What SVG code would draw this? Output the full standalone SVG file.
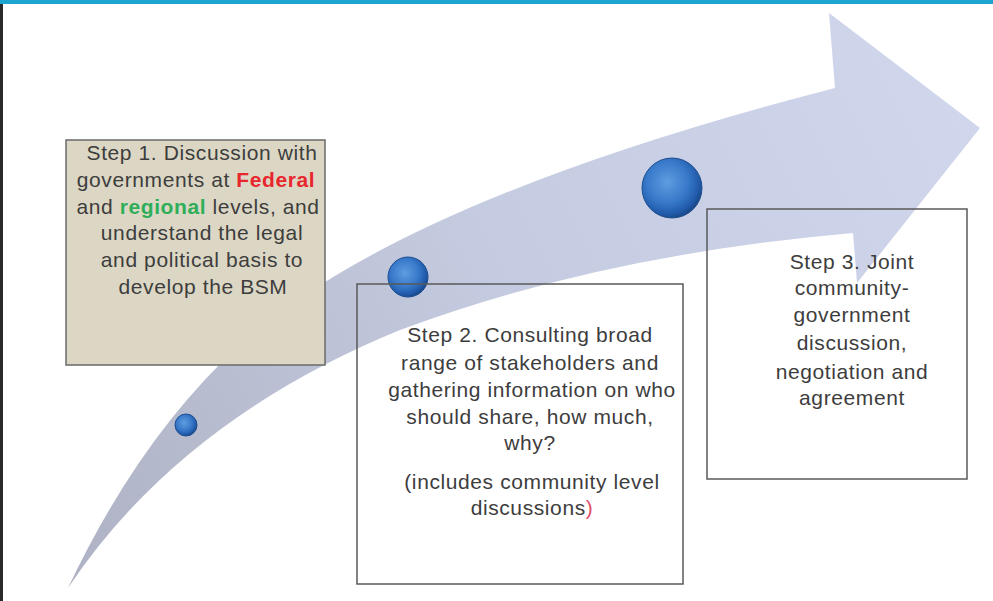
<svg xmlns="http://www.w3.org/2000/svg" width="993" height="601" viewBox="0 0 993 601">
<defs>
<linearGradient id="arrowGrad" x1="68" y1="588" x2="980" y2="128" gradientUnits="userSpaceOnUse">
<stop offset="0" stop-color="#aeb2c4"/>
<stop offset="0.5" stop-color="#c4cadf"/>
<stop offset="1" stop-color="#d0d6ec"/>
</linearGradient>
<radialGradient id="sphere" cx="0.42" cy="0.4" r="0.6">
<stop offset="0" stop-color="#5f9de0"/>
<stop offset="0.6" stop-color="#3677c8"/>
<stop offset="0.9" stop-color="#2059a8"/>
<stop offset="1" stop-color="#1b4a8c"/>
</radialGradient>
<style>
.box{fill:none;stroke:#5a5a5a;stroke-width:1.5}
.t{font-family:"Liberation Sans",Arial,sans-serif;font-size:21px;letter-spacing:0.6px;fill:#3d3d3d;text-anchor:middle}
.sph{fill:url(#sphere);stroke:#1d4f8f;stroke-width:1}
</style>
</defs>
<rect width="993" height="601" fill="#ffffff"/>
<rect x="0" y="0" width="993" height="4" fill="#1ba6cf"/>
<rect x="0" y="4" width="3" height="597" fill="#2a2a2a"/>

<g id="connectors">
<path id="arrow" d="M68,588 Q140,436 240,345 Q400,200 835,88 L829,13 L980,128 L857,283 L853,233 Q600,255 400,330 Q180,420 68,588 Z" fill="url(#arrowGrad)"/>
<circle class="sph" cx="186" cy="425" r="11"/>
<circle class="sph" cx="408" cy="277" r="20"/>
<circle class="sph" cx="672" cy="188" r="30"/>
</g>

<g id="step1">
<rect x="66" y="140" width="259" height="225" fill="#dcd7c4" stroke="#6a6a6a" stroke-width="1.5"/>
<text class="t" x="202" y="160">Step 1. Discussion with</text>
<text class="t" x="196" y="187">governments at <tspan fill="#e8262e" font-weight="bold">Federal</tspan></text>
<text class="t" x="198" y="214">and <tspan fill="#2fae5a" font-weight="bold">regional</tspan> levels, and</text>
<text class="t" x="202" y="240">understand the legal</text>
<text class="t" x="202" y="267">and political basis to</text>
<text class="t" x="203" y="294">develop the BSM</text>
</g>

<g id="step2">
<rect class="box" x="357" y="284" width="326" height="300"/>
<text class="t" x="530" y="342">Step 2. Consulting broad</text>
<text class="t" x="530" y="370">range of stakeholders and</text>
<text class="t" x="532" y="397">gathering information on who</text>
<text class="t" x="530" y="424">should share, how much,</text>
<text class="t" x="530" y="450">why?</text>
<text class="t" x="532" y="489">(includes community level</text>
<text class="t" x="532" y="515">discussions<tspan fill="#e0506a">)</tspan></text>
</g>

<g id="step3">
<rect class="box" x="707" y="209" width="260" height="270"/>
<text class="t" x="852" y="269">Step 3. Joint</text>
<text class="t" x="852" y="295">community-</text>
<text class="t" x="852" y="322">government</text>
<text class="t" x="852" y="350">discussion,</text>
<text class="t" x="852" y="379">negotiation and</text>
<text class="t" x="852" y="405">agreement</text>
</g>
</svg>
